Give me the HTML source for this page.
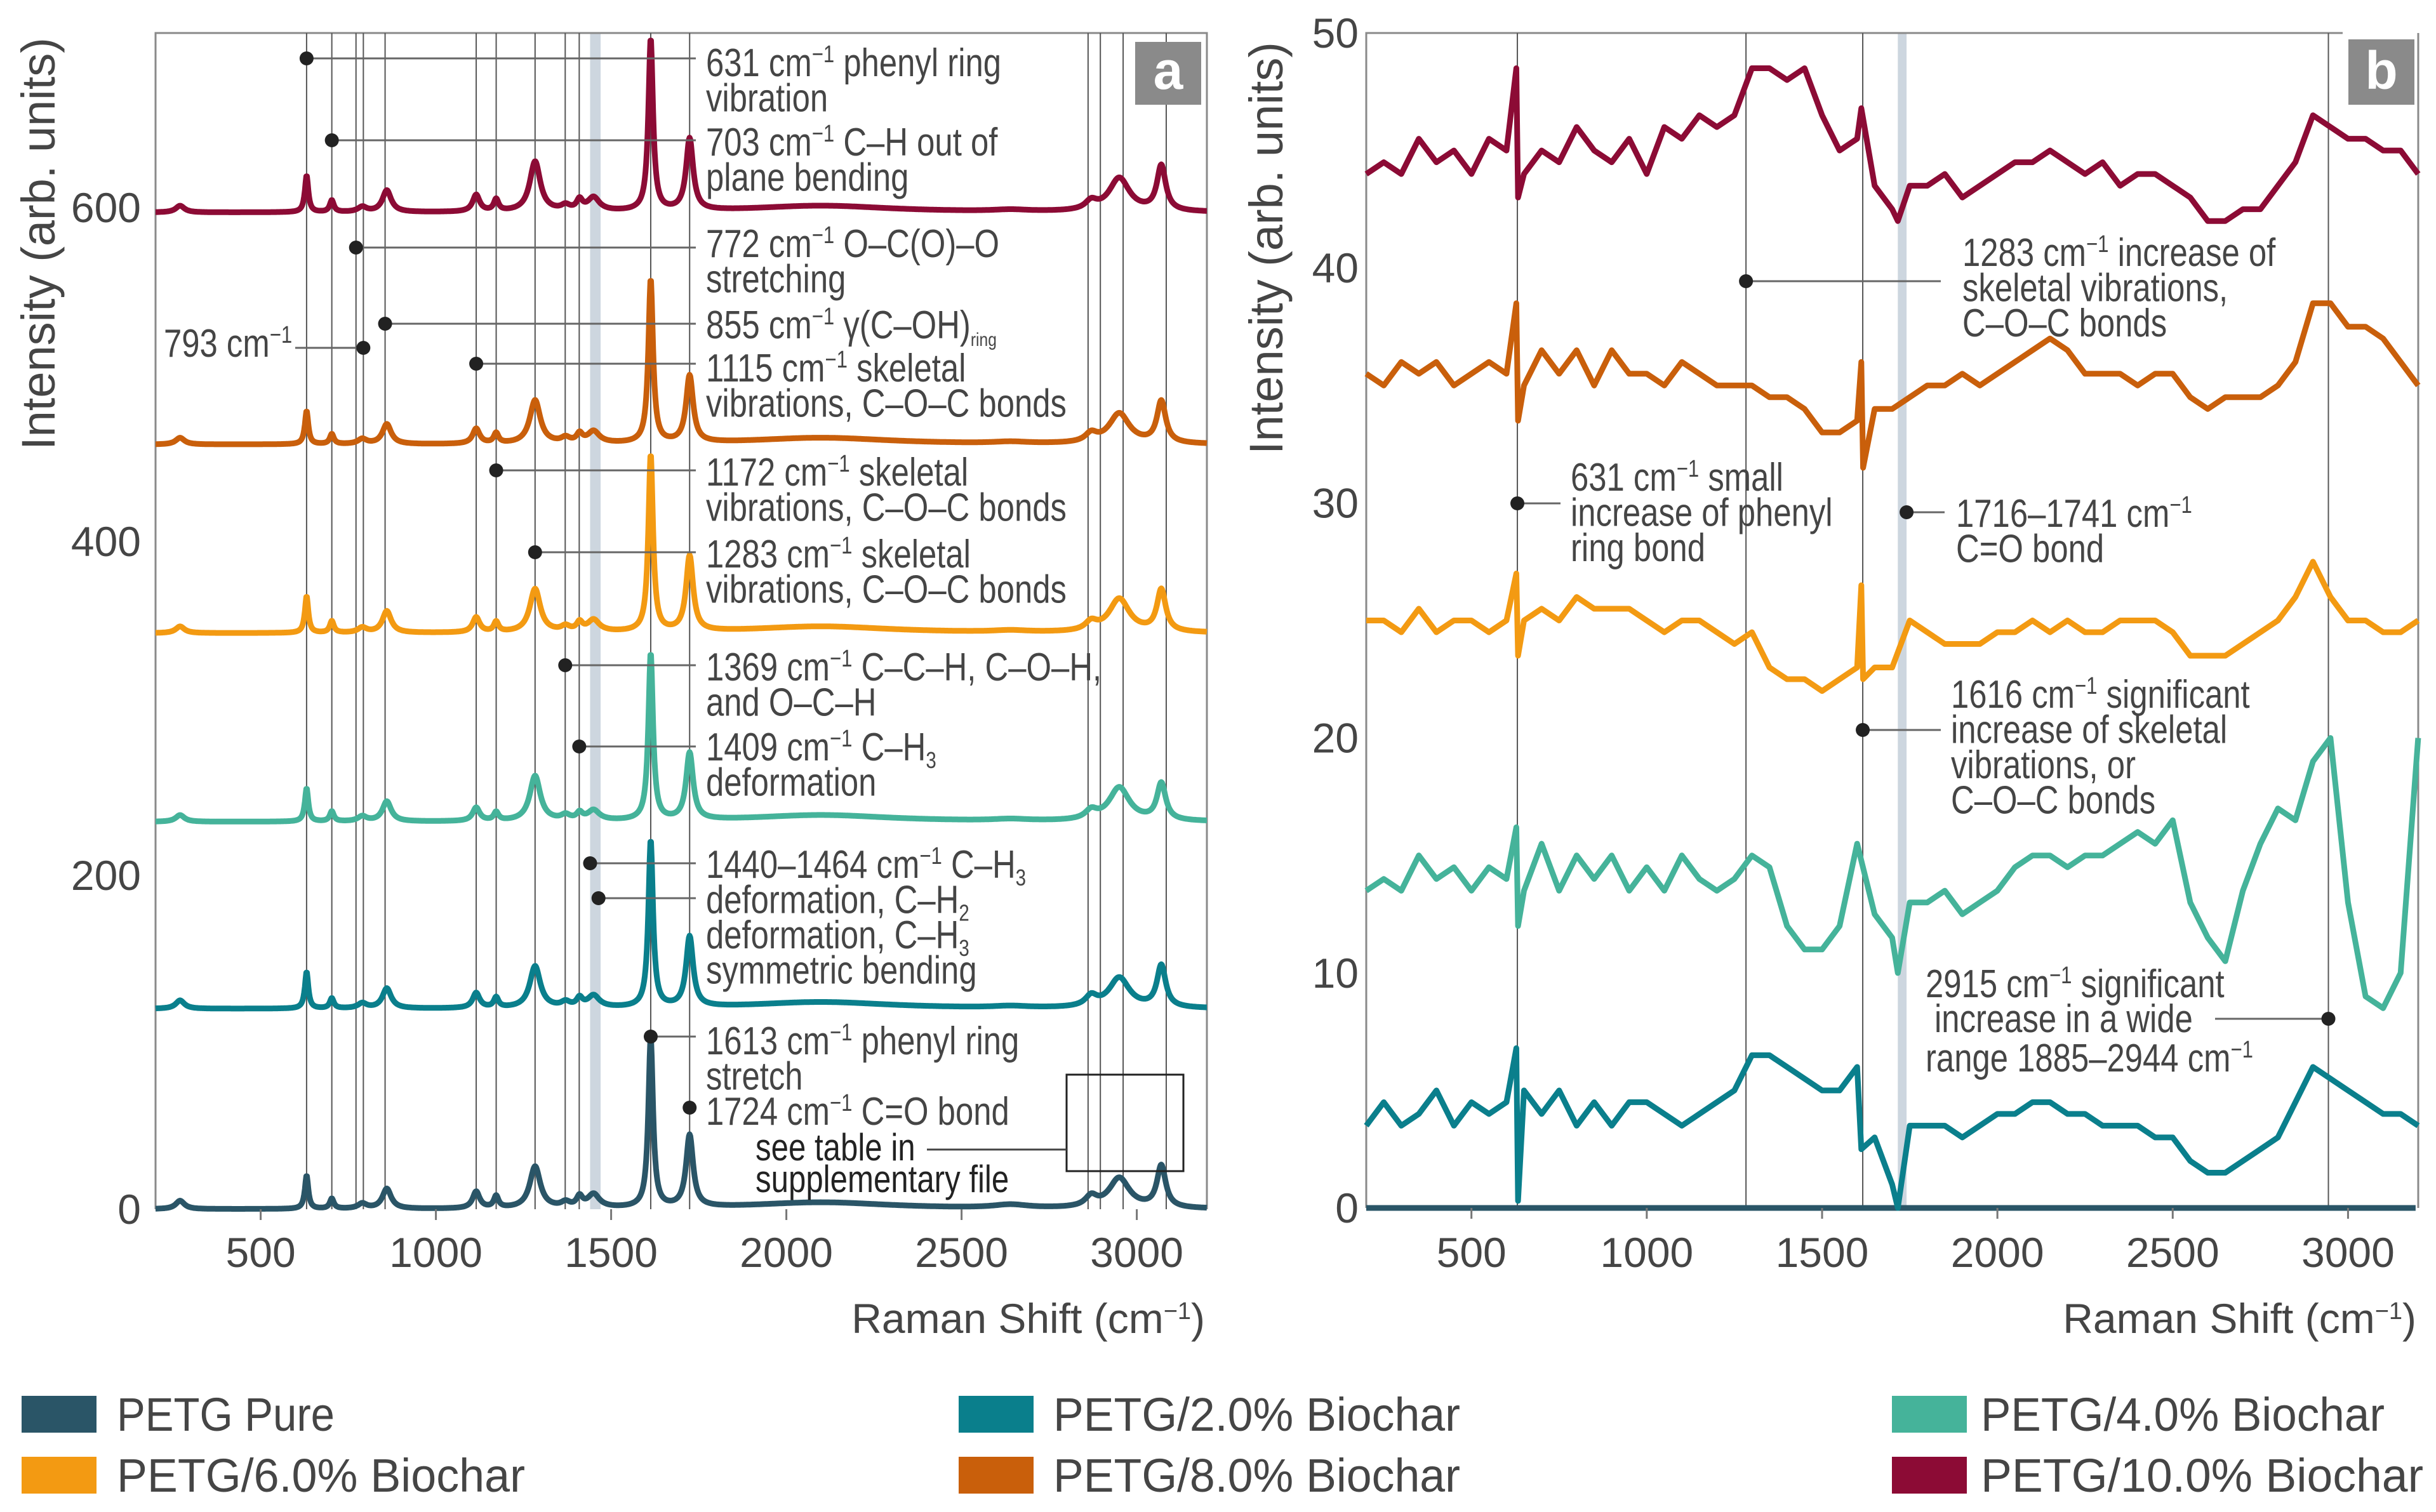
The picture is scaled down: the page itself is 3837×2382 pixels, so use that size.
<!DOCTYPE html>
<html><head><meta charset="utf-8"><style>
html,body{margin:0;padding:0;background:#fff}
svg{display:block}
text{font-family:"Liberation Sans",sans-serif;fill:#454545}
.n{font-family:"Liberation Sans Narrow","Liberation Sans",sans-serif}
</style></head><body>
<svg id="chart" xmlns="http://www.w3.org/2000/svg" width="3837" height="2382" viewBox="0 0 3837 2382">
<g id="layerA"></g>
<g id="layerB"></g>
<g id="legend"></g>
</svg>
<script>
// ---------- data ----------
const seriesNames = ["PETG Pure","PETG/2.0% Biochar","PETG/4.0% Biochar","PETG/6.0% Biochar","PETG/8.0% Biochar","PETG/10.0% Biochar"];
const seriesColors = ["#2a5567","#0a7f8c","#45b39a","#f39a12","#c95f0b","#8c0b35"];
const xTicks = [500,1000,1500,2000,2500,3000];
const yTicksA = [0,200,400,600];
const yTicksB = [0,10,20,30,40,50];
// panel a: peak positions / widths and peak heights per series
const peakPos   = [270,631,703,790,860,1115,1172,1283,1370,1410,1450,1613,1724,2100,2640,2870,2950,3070];
const peakWidth = [15,6,7,15,15,12,8,18,15,10,20,8,12,250,60,20,35,15];
const heightsPure = [5,20,6,3,12,10,7,25,3,6,8,102,43,4,2,6,18,25];
const heights2 = [5,22,6,3,12,9,6,25,3,5,7,100,42,4,1,6,18,25];
const heights4 = [4,20,6,3,12,8,5,27,3,4,6,100,40,4,1,5,20,22];
const heights6 = [4,22,7,3,13,9,6,26,3,5,7,106,45,4,1,5,20,25];
const heights8 = [4,20,6,3,12,9,6,26,3,5,7,98,40,4,1,5,18,25];
const heights10 = [4,22,7,3,13,10,7,30,3,6,8,103,43,4,1,5,20,27];
const offsetsA = [0,120,232,345,458,597];
// panel b: difference spectra sampled every 50 cm-1 from 200 to 3200
const bX0 = 200, bStep = 50;
const b2 = [3.5,4.5,3.5,4,5,3.5,4.5,4,4.5,5, 4,5,3.5,4.5,3.5,4.5,4.5,4,3.5,4, 4.5,5,6.5,6.5,6,5.5,5,5,6,3, 1,3.5,3.5,3.5,3,3.5,4,4,4.5,4.5, 4,4,3.5,3.5,3.5,3,3,2,1.5,1.5, 2,2.5,3,4.5,6,5.5,5,4.5,4,4, 3.5];
const b4 = [13.5,14,13.5,15,14,14.5,13.5,14.5,14,13.5, 15.5,13.5,15,14,15,13.5,14.5,13.5,15,14, 13.5,14,15,14.5,12,11,11,12,15.5,12.5, 11.5,13,13,13.5,12.5,13,13.5,14.5,15,15, 14.5,15,15,15.5,16,15.5,16.5,13,11.5,10.5, 13.5,15.5,17,16.5,19,20,13,9,8.5,10, 20];
const b6 = [25,25,24.5,25.5,24.5,25,25,24.5,25,25, 25.5,25,26,25.5,25.5,25.5,25,24.5,25,25, 24.5,24,24.5,23,22.5,22.5,22,22.5,23,23, 23,25,24.5,24,24,24,24.5,24.5,25,24.5, 25,24.5,24.5,25,25,25,24.5,23.5,23.5,23.5, 24,24.5,25,26,27.5,26,25,25,24.5,24.5, 25];
const b8 = [35.5,35,36,35.5,36,35,35.5,36,35.5,35, 36.5,35.5,36.5,35,36.5,35.5,35.5,35,36,35.5, 35,35,35,34.5,34.5,34,33,33,33.5,34, 34,34.5,35,35,35.5,35,35.5,36,36.5,37, 36.5,35.5,35.5,35.5,35,35.5,35.5,34.5,34,34.5, 34.5,34.5,35,36,38.5,38.5,37.5,37.5,37,36, 35];
const b10 = [44,44.5,44,45.5,44.5,45,44,45.5,45,44, 45,44.5,46,45,44.5,45.5,44,46,45.5,46.5, 46,46.5,48.5,48.5,48,48.5,46.5,45,45.5,43.5, 42.5,43.5,43.5,44,43,43.5,44,44.5,44.5,45, 44.5,44,44.5,43.5,44,44,43.5,43,42,42, 42.5,42.5,43.5,44.5,46.5,46,45.5,45.5,45,45, 44];
const spikeX2 = [628,633,1612,1716], spikeY2 = [6.8,0.3,2.5,0];
const spikeX4 = [628,633,1716], spikeY4 = [16.2,12,10];
const spikeX6 = [628,633,1612,1617], spikeY6 = [27,23.5,26.5,22.5];
const spikeX8 = [628,633,1612,1617], spikeY8 = [38.5,33.5,36,31.5];
const spikeX10 = [628,633,1612,1716], spikeY10 = [48.5,43,46.8,42];

// ---------- axes ----------
const xA = v => 245 + (v-200)*0.552;
const yA = v => 1905 - v*2.63;
const xB = v => 2152 + (v-200)*0.5523;
const yB = v => 1903 - v*37.02;
const NS = "http://www.w3.org/2000/svg";
function mk(tag, attrs, parent){ const e=document.createElementNS(NS,tag); for(const k in attrs) e.setAttribute(k,attrs[k]); parent.appendChild(e); return e; }
function ntext(x,y,html,parent,size){ const t=mk('text',{x:0,y:0,'font-size':size||62,class:'n',transform:`translate(${x},${y}) scale(0.82,1)`},parent); t.innerHTML=html; return t; }
const LA = document.getElementById('layerA'), LB = document.getElementById('layerB'), LG = document.getElementById('legend');
const SUP = '<tspan dy="-22" font-size="38">−1</tspan><tspan dy="22">';

// ---------- panel a ----------
let band = mk('rect',{x:xA(1440),y:52,width:xA(1470)-xA(1440),height:1853,fill:'#cdd6df'},LA);


let frA = mk('path',{d:`M245 1905 V52 H1901 V1905`,fill:'none',stroke:'#8a8a8a','stroke-width':3},LA);


const vlinesA = [631,703,772,793,855,1115,1172,1283,1369,1409,1613,1724,2861,2896,2961,3084];
vlinesA.forEach(v=>{
  const l = mk('line',{x1:xA(v),x2:xA(v),y1:52,y2:1905,stroke:'#555','stroke-width':2},LA);
  
  
});
const heightsA = [heightsPure,heights2,heights4,heights6,heights8,heights10];
for(let s=5;s>=0;s--){
  let d='';
  for(let x=200;x<=3200;x+=2){
    let y=offsetsA[s];
    for(let p=0;p<peakPos.length;p++){ const w=peakWidth[p]; const dx=(x-peakPos[p])/w; y+=heightsA[s][p]/(1+dx*dx); }
    d += (x===200?'M':'L')+xA(x).toFixed(1)+' '+yA(y).toFixed(1);
  }
  const p = mk('path',{d:d,fill:'none',stroke:seriesColors[s],'stroke-width':9,'stroke-linejoin':'round'},LA);
  
  
}
xTicks.forEach(t=>{
  const l=mk('line',{x1:xA(t),x2:xA(t),y1:1905,y2:1922,stroke:'#777','stroke-width':3},LA);
  
  
  const tx=mk('text',{x:xA(t),y:1996,'font-size':66,'text-anchor':'middle'},LA); tx.textContent=t;
  
  
});
yTicksA.forEach(t=>{
  const tx=mk('text',{x:222,y:yA(t)+23,'font-size':66,'text-anchor':'end'},LA); tx.textContent=t;
  
  
});
let ytA=mk('text',{x:0,y:0,'font-size':74,'text-anchor':'middle',transform:'translate(86,384) rotate(-90)'},LA); ytA.textContent='Intensity (arb. units)';


let xtA=mk('text',{x:1898,y:2100,'font-size':66,'text-anchor':'end'},LA); xtA.innerHTML='Raman Shift (cm'+SUP+')</tspan>';


const annA = [
 [631,92,['631 cm'+SUP+' phenyl ring</tspan>','vibration'],99],
 [703,221,['703 cm'+SUP+' C–H out of</tspan>','plane bending'],224],
 [772,390,['772 cm'+SUP+' O–C(O)–O</tspan>','stretching'],384],
 [855,510,['855 cm'+SUP+' γ(C–OH)<tspan dy="12" font-size="30">ring</tspan></tspan>'],512],
 [1115,573,['1115 cm'+SUP+' skeletal</tspan>','vibrations, C–O–C bonds'],580],
 [1172,741,['1172 cm'+SUP+' skeletal</tspan>','vibrations, C–O–C bonds'],744],
 [1283,870,['1283 cm'+SUP+' skeletal</tspan>','vibrations, C–O–C bonds'],873],
 [1369,1048,['1369 cm'+SUP+' C–C–H, C–O–H,</tspan>','and O–C–H'],1051],
 [1409,1176,['1409 cm'+SUP+' C–H<tspan dy="12" font-size="36">3</tspan></tspan>','deformation'],1177],
 [1440,1360,['1440–1464 cm'+SUP+' C–H<tspan dy="12" font-size="36">3</tspan></tspan>','deformation, C–H<tspan dy="12" font-size="36">2</tspan>','deformation, C–H<tspan dy="12" font-size="36">3</tspan>','symmetric bending'],1362],
 [1464,1415,[],0],
 [1613,1633,['1613 cm'+SUP+' phenyl ring</tspan>','stretch'],1640],
 [1724,1745,['1724 cm'+SUP+' C=O bond</tspan>'],1751]
];
annA.forEach(a=>{
  const g=mk('g',{},LA);
  
  
  if(a[0]!==1724) mk('line',{x1:xA(a[0]),x2:1096,y1:a[1],y2:a[1],stroke:'#666','stroke-width':3},g);
  mk('circle',{cx:xA(a[0]),cy:a[1],r:11,fill:'#222'},g);
  a[2].forEach((t,i)=>{ ntext(1112,a[3]+21+i*55.5,t,g); });
});
let g793=mk('g',{},LA);


mk('line',{x1:465,x2:xA(793),y1:548,y2:548,stroke:'#666','stroke-width':3},g793);
mk('circle',{cx:xA(793),cy:548,r:11,fill:'#222'},g793);
ntext(258,562,'793 cm<tspan dy="-22" font-size="38">−1</tspan>',g793);
let gtab=mk('g',{},LA);


mk('rect',{x:1680,y:1693,width:184,height:152,fill:'none',stroke:'#222','stroke-width':3},gtab);
mk('line',{x1:1460,x2:1680,y1:1811,y2:1811,stroke:'#444','stroke-width':3},gtab);
ntext(1190,1828,'see table in',gtab,60).setAttribute('style','fill:#222');
ntext(1190,1878,'supplementary file',gtab,60).setAttribute('style','fill:#222');
let la=mk('g',{},LA);


mk('rect',{x:1788,y:66,width:104,height:99,fill:'#8a8a8a'},la);
let lat=mk('text',{x:1840,y:140,'font-size':84,'font-weight':'bold','text-anchor':'middle',style:'fill:#fff'},la); lat.textContent='a';

// ---------- panel b ----------
let bandB = mk('rect',{x:xB(1716),y:52,width:xB(1741)-xB(1716),height:1851,fill:'#cdd6df'},LB);


let frB = mk('path',{d:`M2152 1903 V52 H3690 M3809 52 V1903`,fill:'none',stroke:'#8a8a8a','stroke-width':3},LB);


[631,1283,1616,2944].forEach(v=>{
  const l=mk('line',{x1:xB(v),x2:xB(v),y1:52,y2:1903,stroke:'#555','stroke-width':2},LB);
  
  
});
const seriesB = [null,b2,b4,b6,b8,b10];
const spikesBX = [null,spikeX2,spikeX4,spikeX6,spikeX8,spikeX10];
const spikesBY = [null,spikeY2,spikeY4,spikeY6,spikeY8,spikeY10];
let zero=mk('line',{x1:xB(200),x2:xB(3200)-4,y1:yB(0),y2:yB(0),stroke:seriesColors[0],'stroke-width':9},LB);


for(let s=5;s>=1;s--){
  const pts=[];
  seriesB[s].forEach((v,i)=>pts.push([bX0+i*bStep,v]));
  spikesBX[s].forEach((x,i)=>pts.push([x,spikesBY[s][i]]));
  pts.sort((a,b)=>a[0]-b[0]);
  const d=pts.map((p,i)=>(i?'L':'M')+xB(p[0]).toFixed(1)+' '+yB(p[1]).toFixed(1)).join('');
  const p=mk('path',{d:d,fill:'none',stroke:seriesColors[s],'stroke-width':9,'stroke-linejoin':'round'},LB);
  
  
}
xTicks.forEach(t=>{
  const l=mk('line',{x1:xB(t),x2:xB(t),y1:1903,y2:1920,stroke:'#777','stroke-width':3},LB);
  
  
  const tx=mk('text',{x:xB(t),y:1996,'font-size':66,'text-anchor':'middle'},LB); tx.textContent=t;
  
  
});
yTicksB.forEach(t=>{
  const tx=mk('text',{x:2140,y:yB(t)+23,'font-size':66,'text-anchor':'end'},LB); tx.textContent=t;
  
  
});
let ytB=mk('text',{x:0,y:0,'font-size':74,'text-anchor':'middle',transform:'translate(2020,391) rotate(-90)'},LB); ytB.textContent='Intensity (arb. units)';


let xtB=mk('text',{x:3806,y:2100,'font-size':66,'text-anchor':'end'},LB); xtB.innerHTML='Raman Shift (cm'+SUP+')</tspan>';


const annB = [
 [1283,443,3057,3091,['1283 cm'+SUP+' increase of</tspan>','skeletal vibrations,','C–O–C bonds'],398],
 [631,793,2458,2474,['631 cm'+SUP+' small</tspan>','increase of phenyl','ring bond'],752],
 [1741,807,3063,3081,['1716–1741 cm'+SUP+'</tspan>','C=O bond'],809],
 [1616,1150,3057,3073,['1616 cm'+SUP+' significant</tspan>','increase of skeletal','vibrations, or','C–O–C bonds'],1094]
];
annB.forEach(a=>{
  const g=mk('g',{},LB);
  
  
  mk('line',{x1:xB(a[0]),x2:a[2],y1:a[1],y2:a[1],stroke:'#666','stroke-width':3},g);
  mk('circle',{cx:xB(a[0]),cy:a[1],r:11,fill:'#222'},g);
  a[4].forEach((t,i)=>{ ntext(a[3],a[5]+21+i*55.5,t,g); });
});
let g2915=mk('g',{},LB);


mk('line',{x1:3489,x2:xB(2944),y1:1605,y2:1605,stroke:'#666','stroke-width':3},g2915);
mk('circle',{cx:xB(2944),cy:1605,r:11,fill:'#222'},g2915);
[['2915 cm'+SUP+' significant</tspan>',3033,1571],['increase in a wide',3047,1626],['range 1885–2944 cm'+SUP+'</tspan>',3033,1688]].forEach(t=>{
  ntext(t[1],t[2],t[0],g2915);
});
let lb=mk('g',{},LB);


mk('rect',{x:3699,y:62,width:104,height:103,fill:'#8a8a8a'},lb);
let lbt=mk('text',{x:3751,y:140,'font-size':84,'font-weight':'bold','text-anchor':'middle',style:'fill:#fff'},lb); lbt.textContent='b';

// ---------- legend ----------
const legX = [34,1510,2980], legTX=[184,1659,3120], legY=[2199,2295];
const legW = [343,641,636,643,641,697];
seriesNames.forEach((n,i)=>{
  const col=i%3, row=Math.floor(i/3);
  const g=mk('g',{},LG);
  
  
  mk('rect',{x:legX[col],y:legY[row],width:118,height:58,fill:seriesColors[i]},g);
  const t=mk('text',{x:legTX[col],y:legY[row]+55,'font-size':74,class:'n',textLength:legW[i],lengthAdjust:'spacingAndGlyphs'},g);
  t.textContent=n;
});
</script>
</body></html>
